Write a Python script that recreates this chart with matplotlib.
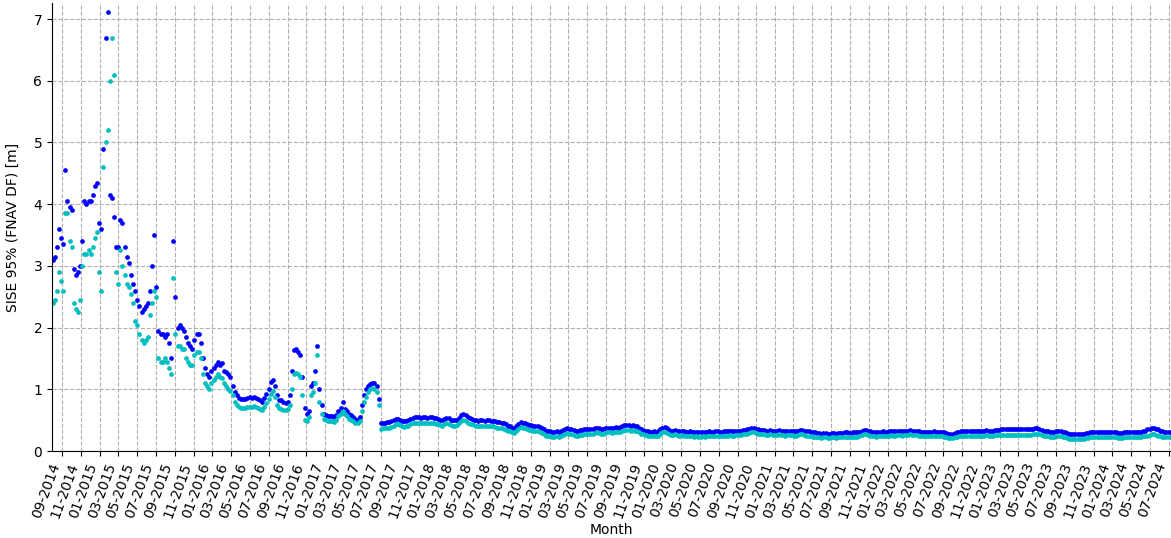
import matplotlib.pyplot as plt
import matplotlib.dates as mdates
import pandas as pd

# samples read off the chart roughly once a week, first sample 2014-07-31
start_date = "2014-07-31"
sample_step = "165h"

# FNAV SISE 95% (blue series), Aug 2014 - Sep 2015
blue_early = [
    3.1, 3.15, 3.3, 3.6, 3.45, 3.35, 4.55, 4.05, 3.95, 3.9,
    2.95, 2.85, 2.9, 3.0, 3.4, 4.05, 4.0, 4.05, 4.05, 4.15,
    4.3, 4.35, 3.7, 3.6, 4.9, 6.7, 7.12, 4.15, 4.1, 3.8,
    3.3, 3.3, 3.75, 3.7, 3.3, 3.15, 3.05, 2.85, 2.7, 2.6,
    2.45, 2.35, 2.25, 2.3, 2.35, 2.4, 2.6, 3.0, 3.5, 2.65,
    1.95, 1.9, 1.9, 1.85, 1.9, 1.75, 1.5, 3.4, 2.5, 2.0,
]
# Sep 2015 - Aug 2017
blue_mid = [
    2.05, 2.0, 1.95, 1.85, 1.75, 1.7, 1.65, 1.8, 1.9, 1.9,
    1.75, 1.5, 1.35, 1.25, 1.2, 1.3, 1.35, 1.4, 1.45, 1.4,
    1.42, 1.3, 1.28, 1.25, 1.2, 1.05, 0.95, 0.9, 0.86, 0.85,
    0.85, 0.84, 0.86, 0.87, 0.86, 0.88, 0.86, 0.85, 0.82, 0.8,
    0.86, 0.92, 1.0, 1.12, 1.15, 1.05, 0.9, 0.83, 0.82, 0.8,
    0.78, 0.8, 0.9, 1.3, 1.63, 1.65, 1.6, 1.55, 1.2, 0.7,
    0.6, 0.65, 1.05, 1.1, 1.3, 1.7, 1.0, 0.75, 0.6, 0.58,
    0.57, 0.56, 0.56, 0.55, 0.58, 0.65, 0.7, 0.8, 0.68, 0.65,
    0.6, 0.58, 0.55, 0.52, 0.5, 0.55, 0.75, 0.9, 1.0, 1.05,
    1.08, 1.1, 1.1, 1.05, 0.85,
]
# Aug 2017 - Jul 2024
blue_late = [
    0.45, 0.46, 0.46, 0.47, 0.47, 0.48,
    0.5, 0.52, 0.52, 0.51, 0.49, 0.48, 0.49, 0.5, 0.52,
    0.54, 0.55, 0.55, 0.55, 0.54, 0.55, 0.55, 0.54, 0.55, 0.55, 0.54, 0.53,
    0.52, 0.51, 0.5, 0.52, 0.54, 0.53, 0.51, 0.5, 0.5, 0.51,
    0.54, 0.58, 0.6, 0.58, 0.55, 0.53, 0.52, 0.51, 0.5, 0.49,
    0.5, 0.5, 0.49, 0.5, 0.5, 0.49, 0.49, 0.48, 0.47, 0.47, 0.46, 0.45,
    0.43, 0.41, 0.4, 0.38, 0.37, 0.4, 0.44, 0.47, 0.46, 0.45, 0.43, 0.42,
    0.42, 0.41, 0.41, 0.4, 0.39,
    0.37, 0.35, 0.33, 0.32, 0.32, 0.31, 0.31, 0.32, 0.31, 0.32, 0.34, 0.36,
    0.37, 0.36, 0.35, 0.34,
    0.33, 0.33, 0.34, 0.34, 0.35, 0.35, 0.35, 0.36, 0.36,
    0.37, 0.38, 0.37, 0.36, 0.36, 0.37, 0.38, 0.38, 0.37, 0.38, 0.39, 0.38, 0.39,
    0.41, 0.42, 0.42, 0.42, 0.41, 0.42, 0.41, 0.4, 0.38, 0.36, 0.34, 0.33,
    0.32, 0.31, 0.31, 0.32, 0.31, 0.32,
    0.36, 0.38, 0.39, 0.37, 0.34, 0.33,
    0.33, 0.34, 0.33, 0.32, 0.33, 0.32, 0.31, 0.31, 0.32, 0.31, 0.3, 0.31,
    0.3, 0.3, 0.31,
    0.3, 0.31, 0.32, 0.31, 0.31, 0.32, 0.32, 0.31, 0.31, 0.32, 0.32, 0.32,
    0.33, 0.32, 0.32, 0.33, 0.33, 0.33, 0.34, 0.34,
    0.35, 0.36, 0.37, 0.37, 0.36, 0.35, 0.34, 0.34,
    0.34, 0.33, 0.33, 0.34, 0.33, 0.33, 0.33, 0.34, 0.33, 0.33, 0.32, 0.33,
    0.33, 0.33, 0.32, 0.32, 0.33, 0.34, 0.34, 0.33, 0.32, 0.32,
    0.31, 0.3, 0.3, 0.29, 0.29, 0.28, 0.29, 0.29, 0.28, 0.28, 0.29, 0.29,
    0.28, 0.29, 0.29, 0.29, 0.3, 0.3, 0.29, 0.29, 0.3, 0.3, 0.3, 0.31,
    0.33, 0.34, 0.34, 0.33, 0.32, 0.31, 0.31, 0.3, 0.31, 0.31, 0.32, 0.31,
    0.31, 0.32, 0.33, 0.32, 0.32, 0.33, 0.33, 0.32, 0.33, 0.33, 0.33, 0.34, 0.33,
    0.33, 0.33, 0.32, 0.31, 0.31, 0.31, 0.31, 0.31, 0.31, 0.32, 0.31,
    0.31, 0.31, 0.31, 0.3, 0.29, 0.28, 0.28, 0.28, 0.29, 0.3, 0.31,
    0.32, 0.32, 0.32, 0.33, 0.33, 0.33, 0.33, 0.33, 0.33, 0.33,
    0.33, 0.33, 0.34, 0.33, 0.33, 0.33, 0.34, 0.34, 0.34,
    0.35, 0.35, 0.35, 0.35, 0.35, 0.35, 0.35, 0.35, 0.35,
    0.35, 0.35, 0.35, 0.35, 0.35, 0.35, 0.36, 0.37, 0.37,
    0.36, 0.34, 0.33, 0.32, 0.32, 0.31, 0.31, 0.31, 0.32, 0.32, 0.32, 0.31,
    0.3, 0.29, 0.28,
    0.28, 0.28, 0.28, 0.28, 0.28, 0.28, 0.28, 0.29, 0.29, 0.3,
    0.3, 0.3, 0.3, 0.3, 0.3, 0.3, 0.3, 0.3, 0.3, 0.3, 0.3,
    0.3, 0.29, 0.29, 0.29, 0.3, 0.3, 0.3, 0.3, 0.3, 0.31, 0.31,
    0.31, 0.31, 0.32, 0.33, 0.35, 0.36, 0.37, 0.37, 0.36, 0.35, 0.33, 0.32,
    0.31, 0.3, 0.3, 0.3,
]

# second series (cyan)
cyan_early = [
    2.4, 2.45, 2.6, 2.9, 2.75, 2.6, 3.85, 3.85, 3.4, 3.3,
    2.4, 2.3, 2.25, 2.45, 3.0, 3.2, 3.2, 3.25, 3.2, 3.3,
    3.45, 3.55, 2.9, 2.6, 4.6, 5.0, 5.2, 6.0, 6.7, 6.1,
    2.9, 2.7, 3.25, 3.0, 2.85, 2.7, 2.65, 2.55, 2.4, 2.1,
    2.05, 1.9, 1.8, 1.75, 1.8, 1.85, 2.2, 2.4, 2.6, 2.5,
    1.5, 1.45, 1.45, 1.5, 1.45, 1.35, 1.25, 2.8, 1.9, 1.7,
]
cyan_mid = [
    1.7, 1.65, 1.65, 1.5, 1.45, 1.4, 1.4, 1.55, 1.6, 1.6,
    1.5, 1.25, 1.1, 1.05, 1.0, 1.1, 1.15, 1.2, 1.25, 1.2,
    1.18, 1.1, 1.05, 1.0, 0.98, 0.9, 0.8, 0.75, 0.72, 0.7,
    0.7, 0.7, 0.71, 0.72, 0.72, 0.73, 0.72, 0.7, 0.68, 0.67,
    0.72, 0.78, 0.85, 0.93, 0.97, 0.88, 0.75, 0.7, 0.68, 0.67,
    0.66, 0.68, 0.75, 1.0, 1.25, 1.27, 1.25, 1.2, 0.9, 0.5,
    0.48, 0.55, 0.9, 0.95, 1.1, 1.55, 0.8, 0.6, 0.52, 0.5,
    0.49, 0.48, 0.48, 0.47, 0.5, 0.57, 0.6, 0.65, 0.6, 0.57,
    0.52, 0.5, 0.48, 0.46, 0.45, 0.48, 0.65, 0.8, 0.88, 0.95,
    1.0, 1.02, 1.0, 0.95, 0.75,
]
cyan_late = [
    0.36, 0.37, 0.37, 0.38, 0.38, 0.39,
    0.41, 0.43, 0.43, 0.42, 0.4, 0.39, 0.4, 0.41, 0.43,
    0.45, 0.46, 0.46, 0.46, 0.45, 0.46, 0.46, 0.45, 0.46, 0.46, 0.45, 0.44,
    0.43, 0.42, 0.41, 0.43, 0.45, 0.44, 0.42, 0.41, 0.41, 0.42,
    0.45, 0.49, 0.51, 0.49, 0.46, 0.44, 0.43, 0.42, 0.41, 0.4,
    0.41, 0.41, 0.4, 0.41, 0.41, 0.4, 0.4, 0.39, 0.38, 0.38, 0.37, 0.36,
    0.34, 0.33, 0.32, 0.3, 0.29, 0.32, 0.36, 0.39, 0.38, 0.37, 0.35, 0.34,
    0.34, 0.33, 0.33, 0.32, 0.31,
    0.29, 0.27, 0.25, 0.24, 0.24, 0.23, 0.23, 0.24, 0.23, 0.24, 0.26, 0.28,
    0.29, 0.28, 0.27, 0.26,
    0.25, 0.25, 0.26, 0.26, 0.27, 0.27, 0.27, 0.28, 0.28,
    0.29, 0.3, 0.29, 0.28, 0.28, 0.29, 0.3, 0.3, 0.29, 0.3, 0.31, 0.3, 0.31,
    0.33, 0.34, 0.34, 0.34, 0.33, 0.34, 0.33, 0.32, 0.3, 0.28, 0.27, 0.26,
    0.25, 0.24, 0.24, 0.25, 0.24, 0.25,
    0.28, 0.3, 0.31, 0.29, 0.27, 0.26,
    0.26, 0.27, 0.26, 0.25, 0.26, 0.25, 0.24, 0.24, 0.25, 0.24, 0.23, 0.24,
    0.23, 0.23, 0.24,
    0.23, 0.24, 0.25, 0.24, 0.24, 0.25, 0.25, 0.24, 0.24, 0.25, 0.25, 0.25,
    0.26, 0.25, 0.25, 0.26, 0.26, 0.26, 0.27, 0.27,
    0.28, 0.29, 0.3, 0.3, 0.29, 0.28, 0.27, 0.27,
    0.27, 0.26, 0.26, 0.27, 0.26, 0.26, 0.26, 0.27, 0.26, 0.26, 0.25, 0.26,
    0.26, 0.26, 0.25, 0.25, 0.26, 0.27, 0.27, 0.26, 0.25, 0.25,
    0.24, 0.23, 0.23, 0.22, 0.22, 0.21, 0.22, 0.22, 0.21, 0.21, 0.22, 0.22,
    0.21, 0.22, 0.22, 0.22, 0.23, 0.23, 0.22, 0.22, 0.23, 0.23, 0.23, 0.24,
    0.26, 0.27, 0.27, 0.26, 0.25, 0.24, 0.24, 0.23, 0.24, 0.24, 0.25, 0.24,
    0.24, 0.25, 0.26, 0.25, 0.25, 0.26, 0.26, 0.25, 0.26, 0.26, 0.26, 0.27, 0.26,
    0.26, 0.26, 0.25, 0.24, 0.24, 0.24, 0.24, 0.24, 0.24, 0.25, 0.24,
    0.24, 0.24, 0.24, 0.23, 0.22, 0.21, 0.21, 0.21, 0.22, 0.23, 0.24,
    0.25, 0.25, 0.25, 0.25, 0.25, 0.25, 0.25, 0.25, 0.25, 0.25,
    0.25, 0.25, 0.26, 0.25, 0.25, 0.25, 0.26, 0.26, 0.26,
    0.26, 0.26, 0.26, 0.26, 0.26, 0.26, 0.26, 0.26, 0.26,
    0.26, 0.26, 0.26, 0.26, 0.26, 0.26, 0.27, 0.27, 0.27,
    0.27, 0.26, 0.25, 0.24, 0.24, 0.23, 0.23, 0.23, 0.24, 0.24, 0.24, 0.23,
    0.22, 0.21, 0.2,
    0.2, 0.2, 0.2, 0.2, 0.2, 0.2, 0.2, 0.21, 0.21, 0.22,
    0.22, 0.22, 0.22, 0.22, 0.22, 0.22, 0.22, 0.22, 0.22, 0.22, 0.22,
    0.22, 0.21, 0.21, 0.21, 0.22, 0.22, 0.22, 0.22, 0.22, 0.23, 0.23,
    0.23, 0.23, 0.24, 0.24, 0.25, 0.26, 0.27, 0.27, 0.26, 0.25, 0.24, 0.23,
    0.22, 0.22, 0.22, 0.22,
]

blue = blue_early + blue_mid + blue_late
cyan = cyan_early + cyan_mid + cyan_late
if len(blue) != len(cyan):
    raise ValueError(f"length mismatch: blue {len(blue)}, cyan {len(cyan)}")

dates = pd.date_range(start_date, periods=len(blue), freq=sample_step)

fig = plt.figure(figsize=(11.71, 5.38), dpi=100)
ax = fig.add_axes([0.0444, 0.1617, 0.9556, 0.8327])

ax.plot(dates, blue, "o", color="#0000ff", markersize=3.4, markeredgewidth=0)
ax.plot(dates, cyan, "o", color="#00bfbf", markersize=3.4, markeredgewidth=0)

ax.set_xlim(pd.Timestamp("2014-07-29"), dates[-1] + pd.Timedelta(days=1))
ax.set_ylim(0, 7.26)
ax.set_yticks(range(8))

ax.xaxis.set_major_locator(mdates.MonthLocator(bymonth=[1, 3, 5, 7, 9, 11]))
ax.xaxis.set_major_formatter(mdates.DateFormatter("%m-%Y"))
plt.setp(ax.get_xticklabels(), rotation=70, ha="right")

ax.grid(True, linestyle="--", color="#b0b0b0", linewidth=0.8)
ax.set_axisbelow(True)
ax.spines["top"].set_visible(False)
ax.spines["right"].set_visible(False)

ax.set_xlabel("Month", fontsize=10, labelpad=2)
ax.set_ylabel("SISE 95% (FNAV DF) [m]", fontsize=10, labelpad=10)
ax.tick_params(labelsize=10)

fig.savefig("out.png", dpi=100)
